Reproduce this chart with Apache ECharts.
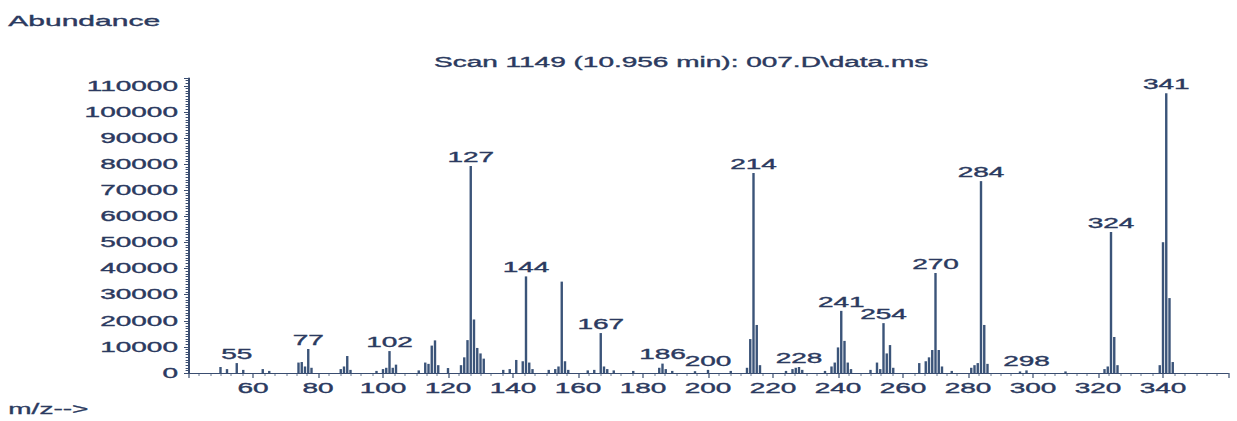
<!DOCTYPE html>
<html>
<head>
<meta charset="utf-8">
<title>Scan 1149 mass spectrum</title>
<script src="https://cdn.jsdelivr.net/npm/echarts@6/dist/echarts.min.js"></script>
<style>
  html, body { margin: 0; padding: 0; background: #ffffff; overflow: hidden; }
  /* The spectrum is laid out at half width and stretched 2x horizontally,
     giving the wide, printout-style lettering of the instrument report. */
  #chart {
    width: 618.5px;
    height: 421px;
    transform: scaleX(2);
    transform-origin: 0 0;
  }
</style>
</head>
<body>
<div id="chart"></div>
<script>
// m/z of each detected ion
const mz = [
  50, 52, 55, 57, 63, 65,
  74, 75, 76, 77, 78,
  87, 88, 89, 90,
  98, 100, 101, 102, 103, 104,
  111, 113, 114, 115, 116, 117, 120,
  124, 125, 126, 127, 128, 129, 130, 131,
  137, 139, 141, 143, 144, 145, 146,
  151, 153, 154, 155, 156, 157,
  163, 165, 167, 168, 169, 171, 177,
  185, 186, 187, 189, 196, 200, 207,
  212, 213, 214, 215, 216,
  224, 226, 227, 228, 229, 236,
  238, 239, 240, 241, 242, 243, 244,
  250, 252, 253, 254, 255, 256, 257,
  265, 267, 268, 269, 270, 271, 272, 275,
  281, 282, 283, 284, 285, 286,
  296, 298, 310,
  322, 323, 324, 325, 326,
  339, 340, 341, 342, 343
];

// abundance of each ion, same order as mz
const abundance = [
  2300, 1500, 3800, 1200, 1500, 800,
  4000, 4200, 2500, 9200, 2000,
  1500, 2500, 6500, 1200,
  800, 1500, 2000, 8400, 2000, 3200,
  1000, 4000, 3500, 10500, 12500, 3000, 1900,
  3000, 6000, 12600, 79300, 20500, 9600, 7500, 5500,
  1200, 1500, 5000, 4500, 37000, 4000, 1500,
  1200, 1500, 2500, 35000, 4500, 1200,
  1000, 1200, 15300, 2500, 1500, 1000, 800,
  2000, 3600, 1500, 800, 700, 1200, 800,
  2000, 13000, 76600, 18400, 3000,
  800, 1500, 2000, 2300, 1200, 800,
  2500, 4000, 9800, 23800, 12300, 4000, 1500,
  1200, 4000, 1500, 19100, 7500, 10700, 2000,
  3800, 4500, 6000, 8800, 38300, 8800, 2500, 800,
  2000, 3000, 3800, 73500, 18400, 3500,
  600, 1000, 600,
  1500, 2500, 54000, 13800, 3000,
  3000, 50100, 107200, 28700, 4200
];

// ions annotated with their m/z
const labeledPeaks = [55, 77, 102, 127, 144, 167, 186, 200, 214, 228, 241, 254, 270, 284, 298, 324, 341];

// axis ranges and tick steps
const mzMin = 40, mzMax = 360, mzStep = 20;
const abMin = 0, abMax = 113000, abStep = 10000;

const titleText = 'Scan 1149 (10.956 min): 007.D\\data.ms';

const ink = '#2b3a60';
const barColor = '#3b5479';
const axisColor = '#3a4d70';
const font = '"Liberation Sans", Arial, Helvetica, sans-serif';

// shared lettering: a faint outline in the same ink gives the heavier print look
const letter = {
  fontFamily: font,
  fontSize: 14,
  color: ink,
  textBorderColor: ink,
  textBorderWidth: 0.35
};

const peakData = mz.map((m, i) => {
  const item = { value: [m, abundance[i]] };
  if (labeledPeaks.includes(m)) {
    item.label = { show: true };
  }
  return item;
});

const chart = echarts.init(document.getElementById('chart'), null, { renderer: 'svg' });

chart.setOption({
  backgroundColor: '#ffffff',
  animation: false,
  textStyle: { fontFamily: font },
  title: {
    text: titleText,
    left: 217,
    top: 55,
    padding: 0,
    textStyle: Object.assign({ fontWeight: 'normal' }, letter)
  },
  graphic: [
    {
      type: 'text', left: 4, top: 13,
      style: { text: 'Abundance', fontSize: 15, fill: ink, stroke: ink, lineWidth: 0.35, fontFamily: font }
    },
    {
      type: 'text', left: 4, top: 402,
      style: { text: 'm/z-->', fontSize: 14, fill: ink, stroke: ink, lineWidth: 0.3, fontFamily: font }
    }
  ],
  grid: { left: 94, right: 5, top: 78, bottom: 48, containLabel: false },
  xAxis: {
    type: 'value',
    min: mzMin,
    max: mzMax,
    interval: mzStep,
    splitLine: { show: false },
    axisLine: { lineStyle: { color: axisColor, width: 1 } },
    axisTick: { show: true, length: 5, lineStyle: { color: axisColor, width: 0.6 } },
    minorTick: { show: true, splitNumber: 6, length: 3, lineStyle: { color: axisColor, width: 0.5 } },
    axisLabel: Object.assign({
      margin: 8,
      formatter: v => (v <= mzMin || v >= mzMax) ? '' : String(v)
    }, letter)
  },
  yAxis: {
    type: 'value',
    min: abMin,
    max: abMax,
    interval: abStep,
    splitLine: { show: false },
    axisLine: { show: true, lineStyle: { color: axisColor, width: 1 } },
    axisTick: { show: true, length: 2, lineStyle: { color: axisColor } },
    minorTick: { show: true, splitNumber: 10, length: 1.2, lineStyle: { color: axisColor } },
    axisLabel: Object.assign({
      margin: 5,
      formatter: v => (v % abStep === 0) ? String(v) : ''
    }, letter)
  },
  series: [
    {
      type: 'bar',
      barWidth: 1.2,
      itemStyle: { color: barColor },
      label: Object.assign({
        show: false,
        position: 'top',
        distance: 2,
        formatter: p => String(p.value[0])
      }, letter),
      data: peakData
    }
  ]
});
</script>
</body>
</html>
